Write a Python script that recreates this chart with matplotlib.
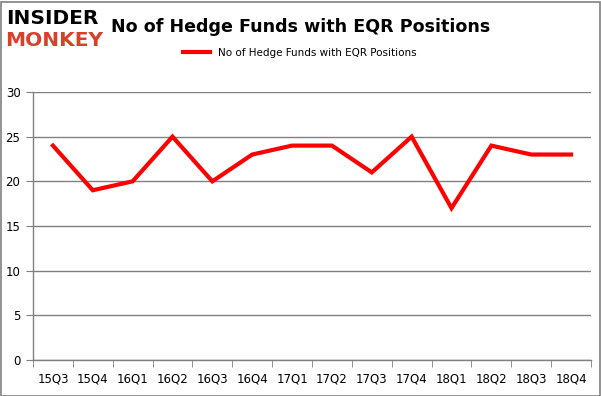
import matplotlib
matplotlib.use("Agg")
import matplotlib.pyplot as plt
from matplotlib.patches import Rectangle

quarters = ["15Q3", "15Q4", "16Q1", "16Q2", "16Q3", "16Q4", "17Q1", "17Q2",
            "17Q3", "17Q4", "18Q1", "18Q2", "18Q3", "18Q4"]
funds = [24, 19, 20, 25, 20, 23, 24, 24, 21, 25, 17, 24, 23, 23]
yticks = [0, 5, 10, 15, 20, 25, 30]

W, H = 601, 396
fig = plt.figure(figsize=(W / 100, H / 100), dpi=100)
fig.patches.append(Rectangle((0.5 / W, 0.5 / H), 1 - 2 / W, 1 - 2 / H, transform=fig.transFigure,
                             fill=False, edgecolor="#808080", linewidth=1.2))

left, right, top, bottom = 33, 591, 92, 360
ax = fig.add_axes([left / W, 1 - bottom / H, (right - left) / W, (bottom - top) / H])
x = list(range(len(quarters)))
ax.plot(x, funds, color="#ff0000", linewidth=3, solid_joinstyle="miter",
        label="No of Hedge Funds with EQR Positions")
ax.set_xlim(-0.5, len(quarters) - 0.5)
ax.set_ylim(0, 30)
ax.set_yticks(yticks)
ax.set_yticklabels([str(v) for v in yticks], fontsize=8.5, fontfamily="DejaVu Sans")
ax.set_xticks(x)
ax.set_xticklabels(quarters, fontsize=8.5, fontfamily="DejaVu Sans")
ax.set_xticks([i - 0.5 for i in range(len(quarters) + 1)], minor=True)
ax.tick_params(axis="x", which="major", length=0, pad=9)
ax.tick_params(axis="x", which="minor", length=5, color="#808080", direction="out")
ax.tick_params(axis="y", length=5, color="#808080", direction="out", pad=4)
ax.grid(axis="y", color="#808080", linewidth=1)
ax.set_axisbelow(True)
for s in ["top", "right"]:
    ax.spines[s].set_visible(False)
for s in ["left", "bottom"]:
    ax.spines[s].set_color("#808080")
    ax.spines[s].set_linewidth(1)

fig.text(301 / W, 1 - 27 / H, "No of Hedge Funds with EQR Positions", ha="center", va="center",
         fontsize=12.6, fontweight="bold", color="#000000")
ax.legend(loc="upper center", bbox_to_anchor=((300 - left) / (right - left), 1.2), frameon=False,
          fontsize=7.5, handlelength=2.6)

fig.text(6 / W, 1 - 18 / H, "INSIDER", fontsize=14.5, fontweight="bold", color="#000000",
         va="center", ha="left", fontfamily="DejaVu Sans")
fig.text(5 / W, 1 - 40 / H, "MONKEY", fontsize=14.5, fontweight="bold", color="#d9402a",
         va="center", ha="left", fontfamily="DejaVu Sans")

fig.savefig("out.png", dpi=100)
